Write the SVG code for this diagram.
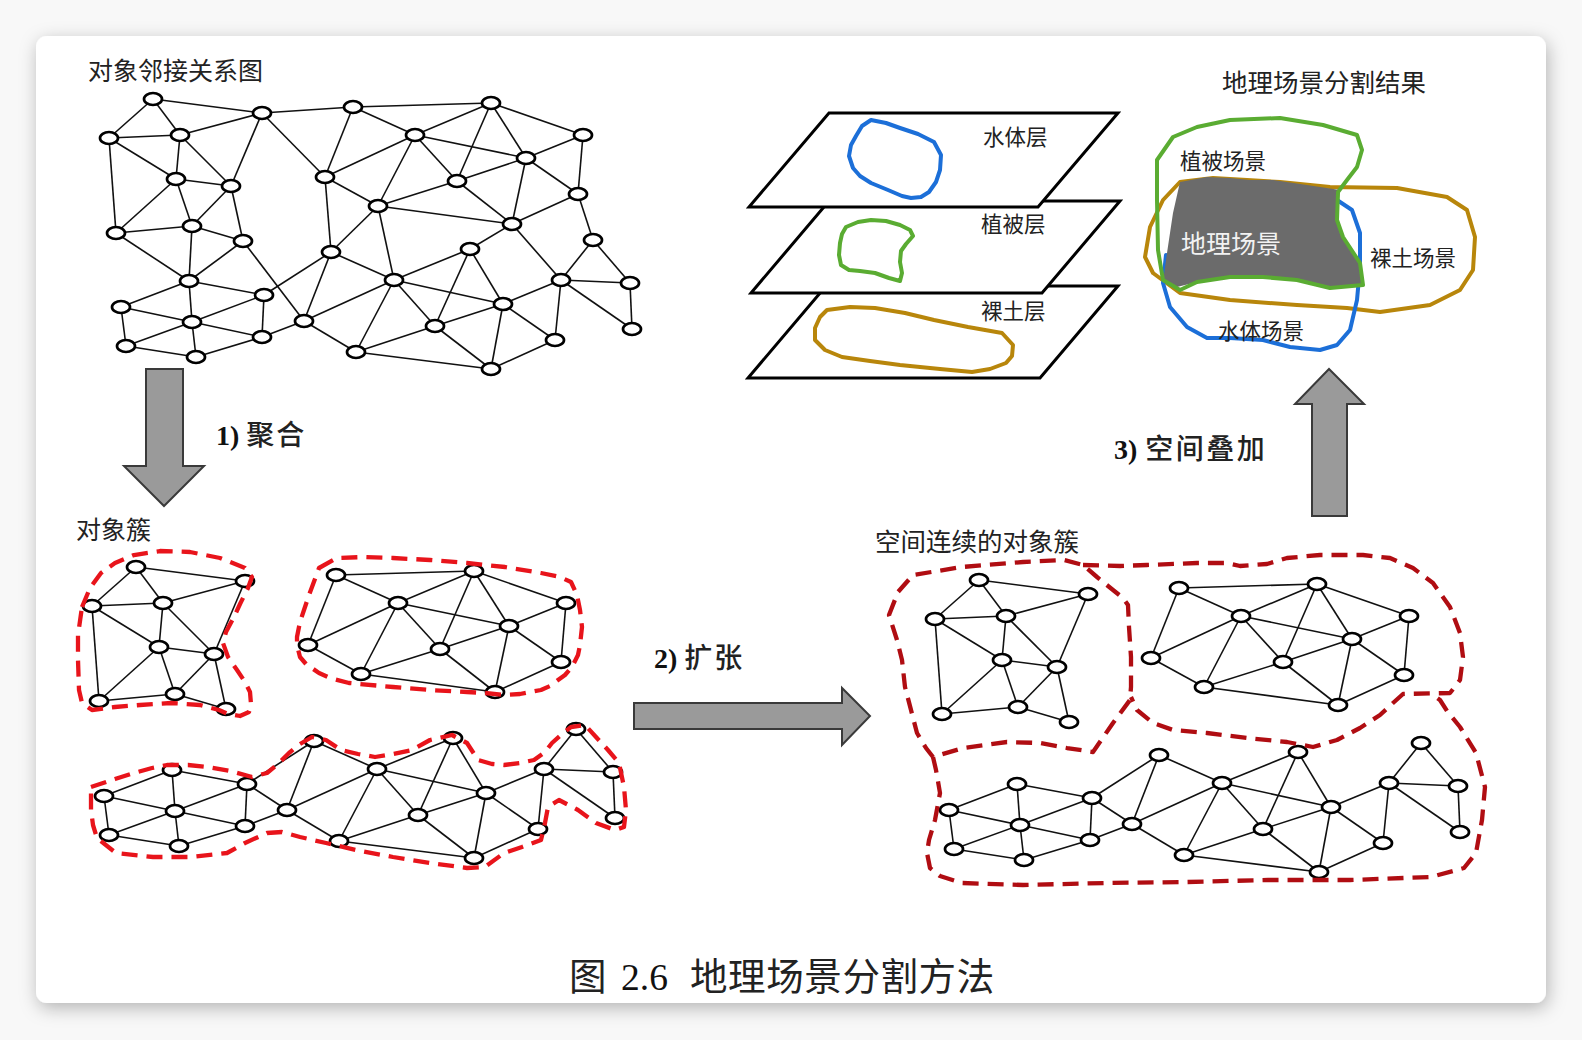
<svg xmlns="http://www.w3.org/2000/svg" xmlns:xlink="http://www.w3.org/1999/xlink" width="1582" height="1040" viewBox="0 0 1582 1040">
<style>
.nd{fill:#fff;stroke:#000;stroke-width:2.7}
.ed line{stroke:#111;stroke-width:1.6}
.rd{fill:none;stroke:#e8141b;stroke-width:4.3;stroke-dasharray:16 9;stroke-linejoin:round}
.dr{fill:none;stroke:#b00d12;stroke-width:4.3;stroke-dasharray:16 9;stroke-linejoin:round}
.lay{fill:#fff;stroke:#000;stroke-width:3;stroke-linejoin:miter}
.blob{fill:none;stroke-width:4;stroke-linejoin:round;stroke-linecap:round}
.arr{fill:#9a9a9a;stroke:#3a3a3a;stroke-width:2}
.cjk{font-family:"Noto Sans CJK SC","Noto Sans",sans-serif;fill:#222}
.num{font-family:"Liberation Serif",serif;font-weight:bold;fill:#111}
</style>
<defs>
<filter id="sh" x="-5%" y="-5%" width="110%" height="112%">
<feDropShadow dx="2" dy="5" stdDeviation="9" flood-color="#000" flood-opacity="0.28"/>
</filter>
<g id="e1" class="ed">
<line x1="153" y1="99" x2="109" y2="138"/><line x1="153" y1="99" x2="262" y2="113"/><line x1="153" y1="99" x2="180" y2="135"/>
<line x1="109" y1="138" x2="180" y2="135"/><line x1="109" y1="138" x2="176" y2="179"/><line x1="109" y1="138" x2="116" y2="233"/>
<line x1="180" y1="135" x2="262" y2="113"/><line x1="180" y1="135" x2="176" y2="179"/><line x1="180" y1="135" x2="231" y2="186"/>
<line x1="262" y1="113" x2="231" y2="186"/><line x1="176" y1="179" x2="231" y2="186"/><line x1="176" y1="179" x2="116" y2="233"/>
<line x1="176" y1="179" x2="192" y2="226"/><line x1="231" y1="186" x2="192" y2="226"/><line x1="231" y1="186" x2="243" y2="241"/>
<line x1="192" y1="226" x2="116" y2="233"/><line x1="192" y1="226" x2="243" y2="241"/>
</g>
<g id="e2" class="ed">
<line x1="353" y1="107" x2="491" y2="103"/><line x1="353" y1="107" x2="325" y2="177"/><line x1="353" y1="107" x2="415" y2="135"/>
<line x1="491" y1="103" x2="415" y2="135"/><line x1="491" y1="103" x2="457" y2="181"/><line x1="491" y1="103" x2="526" y2="158"/>
<line x1="491" y1="103" x2="583" y2="135"/><line x1="415" y1="135" x2="325" y2="177"/><line x1="415" y1="135" x2="378" y2="206"/>
<line x1="415" y1="135" x2="457" y2="181"/><line x1="415" y1="135" x2="526" y2="158"/><line x1="583" y1="135" x2="526" y2="158"/>
<line x1="583" y1="135" x2="578" y2="194"/><line x1="526" y1="158" x2="457" y2="181"/><line x1="526" y1="158" x2="578" y2="194"/>
<line x1="526" y1="158" x2="512" y2="224"/><line x1="457" y1="181" x2="512" y2="224"/><line x1="325" y1="177" x2="378" y2="206"/>
<line x1="378" y1="206" x2="457" y2="181"/><line x1="378" y1="206" x2="512" y2="224"/><line x1="578" y1="194" x2="512" y2="224"/>
</g>
<g id="e3" class="ed">
<line x1="189" y1="281" x2="121" y2="307"/><line x1="189" y1="281" x2="264" y2="295"/><line x1="189" y1="281" x2="192" y2="322"/>
<line x1="121" y1="307" x2="192" y2="322"/><line x1="121" y1="307" x2="126" y2="346"/><line x1="192" y1="322" x2="264" y2="295"/>
<line x1="192" y1="322" x2="262" y2="337"/><line x1="192" y1="322" x2="126" y2="346"/><line x1="192" y1="322" x2="196" y2="357"/>
<line x1="126" y1="346" x2="196" y2="357"/><line x1="196" y1="357" x2="262" y2="337"/><line x1="262" y1="337" x2="264" y2="295"/>
<line x1="262" y1="337" x2="304" y2="321"/><line x1="264" y1="295" x2="331" y2="252"/><line x1="304" y1="321" x2="331" y2="252"/>
<line x1="304" y1="321" x2="394" y2="280"/><line x1="304" y1="321" x2="356" y2="352"/><line x1="331" y1="252" x2="394" y2="280"/>
<line x1="394" y1="280" x2="470" y2="249"/><line x1="394" y1="280" x2="503" y2="304"/><line x1="394" y1="280" x2="435" y2="326"/>
<line x1="394" y1="280" x2="356" y2="352"/><line x1="470" y1="249" x2="435" y2="326"/><line x1="470" y1="249" x2="503" y2="304"/>
<line x1="435" y1="326" x2="356" y2="352"/><line x1="435" y1="326" x2="491" y2="369"/><line x1="435" y1="326" x2="503" y2="304"/>
<line x1="503" y1="304" x2="491" y2="369"/><line x1="503" y1="304" x2="555" y2="340"/><line x1="503" y1="304" x2="561" y2="280"/>
<line x1="356" y1="352" x2="491" y2="369"/><line x1="491" y1="369" x2="555" y2="340"/><line x1="561" y1="280" x2="555" y2="340"/>
<line x1="561" y1="280" x2="593" y2="240"/><line x1="561" y1="280" x2="630" y2="283"/><line x1="561" y1="280" x2="632" y2="329"/>
<line x1="593" y1="240" x2="630" y2="283"/><line x1="630" y1="283" x2="632" y2="329"/>
</g>
<g id="ex" class="ed">
<line x1="262" y1="113" x2="353" y2="107"/><line x1="262" y1="113" x2="325" y2="177"/><line x1="192" y1="226" x2="189" y2="281"/>
<line x1="116" y1="233" x2="189" y2="281"/><line x1="243" y1="241" x2="189" y2="281"/><line x1="243" y1="241" x2="304" y2="321"/>
<line x1="578" y1="194" x2="593" y2="240"/><line x1="512" y1="224" x2="470" y2="249"/><line x1="512" y1="224" x2="561" y2="280"/>
<line x1="378" y1="206" x2="394" y2="280"/><line x1="378" y1="206" x2="331" y2="252"/><line x1="325" y1="177" x2="331" y2="252"/>
</g>
<g id="ebe" class="ed"><line x1="264" y1="295" x2="304" y2="321"/></g>
</defs>

<rect x="0" y="0" width="1582" height="1040" fill="#f8f8f8"/>
<rect x="36" y="36" width="1510" height="967" rx="11" fill="#fff" filter="url(#sh)"/>

<g id="connectors">
<use href="#e1"/><use href="#e2"/><use href="#e3"/><use href="#ex"/>
<g transform="translate(-17,468)"><use href="#e1"/><use href="#e2"/></g>
<g transform="translate(-17,489)"><use href="#e3"/><use href="#ebe"/></g>
<g transform="translate(826,481)"><use href="#e1"/><use href="#e2"/></g>
<g transform="translate(828,503)"><use href="#e3"/><use href="#ebe"/></g>
</g>

<g id="graph-top">
<g id="t-A"><ellipse class="nd" cx="153" cy="99" rx="9" ry="6"/></g>
<g id="t-B"><ellipse class="nd" cx="262" cy="113" rx="9" ry="6"/></g>
<g id="t-C"><ellipse class="nd" cx="109" cy="138" rx="9" ry="6"/></g>
<g id="t-D"><ellipse class="nd" cx="180" cy="135" rx="9" ry="6"/></g>
<g id="t-E"><ellipse class="nd" cx="353" cy="107" rx="9" ry="6"/></g>
<g id="t-F"><ellipse class="nd" cx="491" cy="103" rx="9" ry="6"/></g>
<g id="t-G"><ellipse class="nd" cx="415" cy="135" rx="9" ry="6"/></g>
<g id="t-H"><ellipse class="nd" cx="583" cy="135" rx="9" ry="6"/></g>
<g id="t-I"><ellipse class="nd" cx="526" cy="158" rx="9" ry="6"/></g>
<g id="t-J"><ellipse class="nd" cx="176" cy="179" rx="9" ry="6"/></g>
<g id="t-K"><ellipse class="nd" cx="231" cy="186" rx="9" ry="6"/></g>
<g id="t-L"><ellipse class="nd" cx="325" cy="177" rx="9" ry="6"/></g>
<g id="t-M"><ellipse class="nd" cx="457" cy="181" rx="9" ry="6"/></g>
<g id="t-N"><ellipse class="nd" cx="578" cy="194" rx="9" ry="6"/></g>
<g id="t-O"><ellipse class="nd" cx="378" cy="206" rx="9" ry="6"/></g>
<g id="t-P"><ellipse class="nd" cx="192" cy="226" rx="9" ry="6"/></g>
<g id="t-Q"><ellipse class="nd" cx="116" cy="233" rx="9" ry="6"/></g>
<g id="t-R"><ellipse class="nd" cx="243" cy="241" rx="9" ry="6"/></g>
<g id="t-S"><ellipse class="nd" cx="512" cy="224" rx="9" ry="6"/></g>
<g id="t-T"><ellipse class="nd" cx="593" cy="240" rx="9" ry="6"/></g>
<g id="t-U"><ellipse class="nd" cx="331" cy="252" rx="9" ry="6"/></g>
<g id="t-V"><ellipse class="nd" cx="470" cy="249" rx="9" ry="6"/></g>
<g id="t-W"><ellipse class="nd" cx="189" cy="281" rx="9" ry="6"/></g>
<g id="t-X"><ellipse class="nd" cx="394" cy="280" rx="9" ry="6"/></g>
<g id="t-Y"><ellipse class="nd" cx="561" cy="280" rx="9" ry="6"/></g>
<g id="t-Z"><ellipse class="nd" cx="630" cy="283" rx="9" ry="6"/></g>
<g id="t-a"><ellipse class="nd" cx="121" cy="307" rx="9" ry="6"/></g>
<g id="t-b"><ellipse class="nd" cx="264" cy="295" rx="9" ry="6"/></g>
<g id="t-c"><ellipse class="nd" cx="503" cy="304" rx="9" ry="6"/></g>
<g id="t-d"><ellipse class="nd" cx="192" cy="322" rx="9" ry="6"/></g>
<g id="t-e"><ellipse class="nd" cx="304" cy="321" rx="9" ry="6"/></g>
<g id="t-f"><ellipse class="nd" cx="435" cy="326" rx="9" ry="6"/></g>
<g id="t-g"><ellipse class="nd" cx="126" cy="346" rx="9" ry="6"/></g>
<g id="t-h"><ellipse class="nd" cx="262" cy="337" rx="9" ry="6"/></g>
<g id="t-i"><ellipse class="nd" cx="555" cy="340" rx="9" ry="6"/></g>
<g id="t-j"><ellipse class="nd" cx="632" cy="329" rx="9" ry="6"/></g>
<g id="t-k"><ellipse class="nd" cx="196" cy="357" rx="9" ry="6"/></g>
<g id="t-l"><ellipse class="nd" cx="356" cy="352" rx="9" ry="6"/></g>
<g id="t-m"><ellipse class="nd" cx="491" cy="369" rx="9" ry="6"/></g>
</g>

<g id="clusters-left">
<g transform="translate(-17,468)">
<g id="l1-A"><ellipse class="nd" cx="153" cy="99" rx="9" ry="6"/></g>
<g id="l1-B"><ellipse class="nd" cx="262" cy="113" rx="9" ry="6"/></g>
<g id="l1-C"><ellipse class="nd" cx="109" cy="138" rx="9" ry="6"/></g>
<g id="l1-D"><ellipse class="nd" cx="180" cy="135" rx="9" ry="6"/></g>
<g id="l1-J"><ellipse class="nd" cx="176" cy="179" rx="9" ry="6"/></g>
<g id="l1-K"><ellipse class="nd" cx="231" cy="186" rx="9" ry="6"/></g>
<g id="l1-P"><ellipse class="nd" cx="192" cy="226" rx="9" ry="6"/></g>
<g id="l1-Q"><ellipse class="nd" cx="116" cy="233" rx="9" ry="6"/></g>
<g id="l1-R"><ellipse class="nd" cx="243" cy="241" rx="9" ry="6"/></g>
<g id="l2-E"><ellipse class="nd" cx="353" cy="107" rx="9" ry="6"/></g>
<g id="l2-F"><ellipse class="nd" cx="491" cy="103" rx="9" ry="6"/></g>
<g id="l2-G"><ellipse class="nd" cx="415" cy="135" rx="9" ry="6"/></g>
<g id="l2-H"><ellipse class="nd" cx="583" cy="135" rx="9" ry="6"/></g>
<g id="l2-I"><ellipse class="nd" cx="526" cy="158" rx="9" ry="6"/></g>
<g id="l2-L"><ellipse class="nd" cx="325" cy="177" rx="9" ry="6"/></g>
<g id="l2-M"><ellipse class="nd" cx="457" cy="181" rx="9" ry="6"/></g>
<g id="l2-N"><ellipse class="nd" cx="578" cy="194" rx="9" ry="6"/></g>
<g id="l2-O"><ellipse class="nd" cx="378" cy="206" rx="9" ry="6"/></g>
<g id="l2-S"><ellipse class="nd" cx="512" cy="224" rx="9" ry="6"/></g>
</g>
<g transform="translate(-17,489)">
<g id="l3-T"><ellipse class="nd" cx="593" cy="240" rx="9" ry="6"/></g>
<g id="l3-U"><ellipse class="nd" cx="331" cy="252" rx="9" ry="6"/></g>
<g id="l3-V"><ellipse class="nd" cx="470" cy="249" rx="9" ry="6"/></g>
<g id="l3-W"><ellipse class="nd" cx="189" cy="281" rx="9" ry="6"/></g>
<g id="l3-X"><ellipse class="nd" cx="394" cy="280" rx="9" ry="6"/></g>
<g id="l3-Y"><ellipse class="nd" cx="561" cy="280" rx="9" ry="6"/></g>
<g id="l3-Z"><ellipse class="nd" cx="630" cy="283" rx="9" ry="6"/></g>
<g id="l3-a"><ellipse class="nd" cx="121" cy="307" rx="9" ry="6"/></g>
<g id="l3-b"><ellipse class="nd" cx="264" cy="295" rx="9" ry="6"/></g>
<g id="l3-c"><ellipse class="nd" cx="503" cy="304" rx="9" ry="6"/></g>
<g id="l3-d"><ellipse class="nd" cx="192" cy="322" rx="9" ry="6"/></g>
<g id="l3-e"><ellipse class="nd" cx="304" cy="321" rx="9" ry="6"/></g>
<g id="l3-f"><ellipse class="nd" cx="435" cy="326" rx="9" ry="6"/></g>
<g id="l3-g"><ellipse class="nd" cx="126" cy="346" rx="9" ry="6"/></g>
<g id="l3-h"><ellipse class="nd" cx="262" cy="337" rx="9" ry="6"/></g>
<g id="l3-i"><ellipse class="nd" cx="555" cy="340" rx="9" ry="6"/></g>
<g id="l3-j"><ellipse class="nd" cx="632" cy="329" rx="9" ry="6"/></g>
<g id="l3-k"><ellipse class="nd" cx="196" cy="357" rx="9" ry="6"/></g>
<g id="l3-l"><ellipse class="nd" cx="356" cy="352" rx="9" ry="6"/></g>
<g id="l3-m"><ellipse class="nd" cx="491" cy="369" rx="9" ry="6"/></g>
</g>
<path class="rd" d="M82,607 L90,588 L101,573 L115,563 L134,555 L160,551 L190,552 L220,558 L245,568 L252,577 L248,588 L240,604 L234,617 L226,632 L223,643 L228,657 L237,670 L245,682 L250,692 L251,704 L249,712 L240,716 L228,714 L219,710 L200,705 L171,703 L140,705 L115,707 L92,710 L82,703 L79,690 L78,660 L78,635 Z"/>
<path class="rd" d="M319,568 L337,558 L365,557 L393,558 L430,560 L467,563 L505,567 L541,573 L560,577 L571,582 L577,595 L580,610 L582,627 L580,645 L578,655 L572,667 L565,675 L550,686 L541,690 L520,694 L504,695 L485,693 L467,692 L430,690 L393,687 L349,683 L330,678 L319,673 L306,664 L300,657 L297,645 L297,637 L300,622 L304,610 L309,595 L312,587 Z"/>
<path class="rd" d="M91,787 L97,785 L115,779 L134,773 L152,768 L167,765 L188,765 L208,767 L230,771 L252,777 L267,773 L278,764 L289,753 L300,744 L312,737 L326,740 L341,750 L358,754 L375,757 L393,754 L412,750 L430,740 L452,735 L467,743 L478,760 L492,764 L504,765 L520,763 L534,760 L545,752 L552,743 L562,734 L571,727 L585,725 L596,737 L608,750 L619,763 L624,787 L626,810 L624,827 L615,830 L596,823 L578,810 L559,800 L548,807 L545,823 L541,840 L522,847 L504,853 L485,867 L467,868 L430,863 L393,857 L356,850 L326,843 L300,837 L282,832 L267,833 L256,838 L245,843 L227,853 L190,857 L153,857 L116,853 L97,838 L93,825 L91,810 Z"/>
</g>

<g id="clusters-right">
<g transform="translate(826,481)">
<g id="r1-A"><ellipse class="nd" cx="153" cy="99" rx="9" ry="6"/></g>
<g id="r1-B"><ellipse class="nd" cx="262" cy="113" rx="9" ry="6"/></g>
<g id="r1-C"><ellipse class="nd" cx="109" cy="138" rx="9" ry="6"/></g>
<g id="r1-D"><ellipse class="nd" cx="180" cy="135" rx="9" ry="6"/></g>
<g id="r1-J"><ellipse class="nd" cx="176" cy="179" rx="9" ry="6"/></g>
<g id="r1-K"><ellipse class="nd" cx="231" cy="186" rx="9" ry="6"/></g>
<g id="r1-P"><ellipse class="nd" cx="192" cy="226" rx="9" ry="6"/></g>
<g id="r1-Q"><ellipse class="nd" cx="116" cy="233" rx="9" ry="6"/></g>
<g id="r1-R"><ellipse class="nd" cx="243" cy="241" rx="9" ry="6"/></g>
<g id="r2-E"><ellipse class="nd" cx="353" cy="107" rx="9" ry="6"/></g>
<g id="r2-F"><ellipse class="nd" cx="491" cy="103" rx="9" ry="6"/></g>
<g id="r2-G"><ellipse class="nd" cx="415" cy="135" rx="9" ry="6"/></g>
<g id="r2-H"><ellipse class="nd" cx="583" cy="135" rx="9" ry="6"/></g>
<g id="r2-I"><ellipse class="nd" cx="526" cy="158" rx="9" ry="6"/></g>
<g id="r2-L"><ellipse class="nd" cx="325" cy="177" rx="9" ry="6"/></g>
<g id="r2-M"><ellipse class="nd" cx="457" cy="181" rx="9" ry="6"/></g>
<g id="r2-N"><ellipse class="nd" cx="578" cy="194" rx="9" ry="6"/></g>
<g id="r2-O"><ellipse class="nd" cx="378" cy="206" rx="9" ry="6"/></g>
<g id="r2-S"><ellipse class="nd" cx="512" cy="224" rx="9" ry="6"/></g>
</g>
<g transform="translate(828,503)">
<g id="r3-T"><ellipse class="nd" cx="593" cy="240" rx="9" ry="6"/></g>
<g id="r3-U"><ellipse class="nd" cx="331" cy="252" rx="9" ry="6"/></g>
<g id="r3-V"><ellipse class="nd" cx="470" cy="249" rx="9" ry="6"/></g>
<g id="r3-W"><ellipse class="nd" cx="189" cy="281" rx="9" ry="6"/></g>
<g id="r3-X"><ellipse class="nd" cx="394" cy="280" rx="9" ry="6"/></g>
<g id="r3-Y"><ellipse class="nd" cx="561" cy="280" rx="9" ry="6"/></g>
<g id="r3-Z"><ellipse class="nd" cx="630" cy="283" rx="9" ry="6"/></g>
<g id="r3-a"><ellipse class="nd" cx="121" cy="307" rx="9" ry="6"/></g>
<g id="r3-b"><ellipse class="nd" cx="264" cy="295" rx="9" ry="6"/></g>
<g id="r3-c"><ellipse class="nd" cx="503" cy="304" rx="9" ry="6"/></g>
<g id="r3-d"><ellipse class="nd" cx="192" cy="322" rx="9" ry="6"/></g>
<g id="r3-e"><ellipse class="nd" cx="304" cy="321" rx="9" ry="6"/></g>
<g id="r3-f"><ellipse class="nd" cx="435" cy="326" rx="9" ry="6"/></g>
<g id="r3-g"><ellipse class="nd" cx="126" cy="346" rx="9" ry="6"/></g>
<g id="r3-h"><ellipse class="nd" cx="262" cy="337" rx="9" ry="6"/></g>
<g id="r3-i"><ellipse class="nd" cx="555" cy="340" rx="9" ry="6"/></g>
<g id="r3-j"><ellipse class="nd" cx="632" cy="329" rx="9" ry="6"/></g>
<g id="r3-k"><ellipse class="nd" cx="196" cy="357" rx="9" ry="6"/></g>
<g id="r3-l"><ellipse class="nd" cx="356" cy="352" rx="9" ry="6"/></g>
<g id="r3-m"><ellipse class="nd" cx="491" cy="369" rx="9" ry="6"/></g>
</g>
<path class="dr" d="M889,615 L898,592 L913,575 L962,567 L1023,562 L1064,560 L1083,565 L1097,577 L1113,590 L1123,598 L1128,605 L1129,627 L1131,657 L1131,687 L1130,700 L1113,723 L1093,752 L1067,748 L1040,743 L1007,742 L963,748 L933,757 L926,748 L917,733 L905,687 L902,660 L897,640 Z"/>
<path class="dr" d="M1083,565 L1120,566 L1147,565 L1197,563 L1227,563 L1240,566 L1267,564 L1287,558 L1320,555 L1363,555 L1390,558 L1413,568 L1433,583 L1450,607 L1460,633 L1463,657 L1460,680 L1450,693 L1403,694 L1393,703 L1380,715 L1360,728 L1337,740 L1313,747 L1287,742 L1247,738 L1207,733 L1173,730 L1153,723 L1137,710 L1131,697"/>
<path class="dr" d="M933,757 L936,770 L940,793 L935,820 L929,840 L927,853 L930,868 L940,876 L962,883 L1023,885 L1105,883 L1187,882 L1268,880 L1350,880 L1431,877 L1464,868 L1476,853 L1482,820 L1485,787 L1476,753 L1460,727 L1447,711 L1440,700 L1436,697"/>
</g>

<g id="layers">
<polygon class="lay" points="826,286 1118,286 1040,378 748,378"/>
<path class="blob" stroke="#b8860b" d="M827,310 L850,307 L875,308 L905,313 L934,320 L968,327 L1002,333 L1013,345 L1012,356 L1006,363 L990,369 L972,372 L940,369 L900,365 L870,361 L842,357 L825,350 L815,340 L815,328 L820,317 Z"/>
<polygon class="lay" points="829,201 1120,201 1042,293 751,293"/>
<path class="blob" stroke="#5aac32" d="M846,227 L858,222 L871,220 L886,221 L900,225 L910,230 L913,236 L906,244 L901,251 L900,262 L902,273 L900,281 L889,278 L875,273 L860,271 L849,270 L841,265 L839,255 L840,243 L842,234 Z"/>
<polygon class="lay" points="829,113 1118,113 1038,207 749,207"/>
<path class="blob" stroke="#1c6fd8" d="M871,120 L886,123 L900,128 L918,134 L934,142 L941,155 L940,170 L936,182 L929,192 L921,197 L911,198 L902,196 L888,190 L871,183 L860,176 L853,168 L849,156 L851,145 L856,136 L862,126 Z"/>
<text class="cjk" x="983" y="145" font-size="21.5">水体层</text>
<text class="cjk" x="981" y="232" font-size="21.5">植被层</text>
<text class="cjk" x="981" y="319" font-size="21.5">裸土层</text>
</g>

<g id="scene-result">
<path class="blob" stroke="#b8860b" d="M1180,182 L1213,178 L1247,180 L1280,182 L1330,187 L1397,188 L1447,197 L1467,210 L1475,237 L1473,270 L1460,290 L1430,305 L1380,312 L1347,308 L1297,305 L1230,300 L1180,293 L1153,273 L1145,257 L1150,227 L1163,200 Z"/>
<path class="blob" stroke="#1c6fd8" d="M1337,200 L1352,210 L1360,233 L1360,267 L1357,300 L1350,330 L1337,345 L1320,350 L1290,347 L1263,340 L1230,338 L1207,338 L1187,327 L1170,307 L1163,283 L1166,255"/>
<polygon fill="#6b6b6b" points="1180,182 1207,177 1230,178 1250,180 1273,180 1307,185 1340,190 1337,220 1343,237 1360,263 1363,285 1330,288 1290,280 1230,277 1197,282 1177,287 1163,282 1167,253 1173,213"/>
<path class="blob" stroke="#5aac32" d="M1157,160 L1173,137 L1197,127 L1230,120 L1280,118 L1323,125 L1357,135 L1362,150 L1357,167 L1347,180 L1338,192 L1337,220 L1343,237 L1360,263 L1363,285 L1330,288 L1297,280 L1263,277 L1230,277 L1197,282 L1180,290 L1163,280 L1158,250 L1157,200 Z"/>
<text class="cjk" x="1180" y="169" font-size="21.5">植被场景</text>
<text class="cjk" x="1181" y="253" font-size="25" style="fill:#f2f2f2">地理场景</text>
<text class="cjk" x="1370" y="266" font-size="21.5">裸土场景</text>
<text class="cjk" x="1218" y="339" font-size="21.5">水体场景</text>
</g>

<g id="arrows">
<polygon class="arr" points="146,369 183,369 183,466 204,466 164,506 124,466 146,466"/>
<polygon class="arr" points="634,703 842,703 842,688 870,716 842,745 842,729 634,729"/>
<polygon class="arr" points="1312,516 1347,516 1347,404 1364,404 1329,369 1295,404 1312,404"/>
</g>

<g id="labels">
<text class="cjk" x="88" y="80" font-size="25">对象邻接关系图</text>
<text class="cjk" x="76" y="539" font-size="25">对象簇</text>
<text class="cjk" x="875" y="551" font-size="25.5">空间连续的对象簇</text>
<text class="cjk" x="1222" y="92" font-size="25.5">地理场景分割结果</text>
<text x="216" y="445" font-size="28"><tspan class="num">1)</tspan><tspan class="cjk" dx="7" font-weight="500" letter-spacing="2">聚合</tspan></text>
<text x="654" y="668" font-size="28"><tspan class="num">2)</tspan><tspan class="cjk" dx="7" font-weight="500" letter-spacing="2">扩张</tspan></text>
<text x="1114" y="459" font-size="28"><tspan class="num">3)</tspan><tspan class="cjk" dx="8" font-weight="500" letter-spacing="2.5">空间叠加</tspan></text>
<text font-size="37.5" y="990"><tspan class="cjk" x="569">图</tspan><tspan x="621" style="font-family:'Liberation Serif',serif;fill:#111">2.6</tspan><tspan class="cjk" x="690" letter-spacing="0.6">地理场景分割方法</tspan></text>
</g>
</svg>
